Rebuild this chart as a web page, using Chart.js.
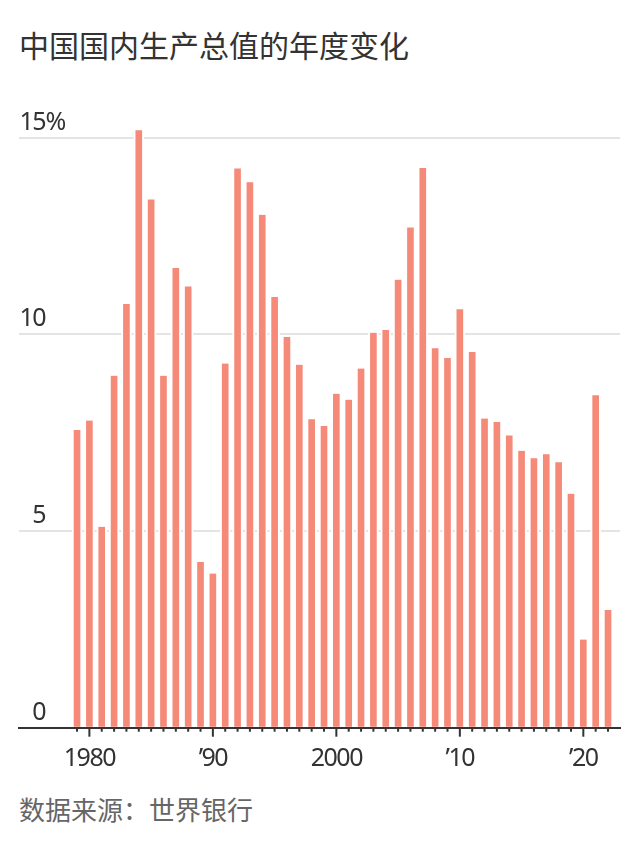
<!DOCTYPE html>
<html lang="zh-CN">
<head>
<meta charset="utf-8">
<script src="https://cdn.jsdelivr.net/npm/chart.js@4.4.1/dist/chart.umd.min.js"></script>
<style>
html, body { margin: 0; padding: 0; background: #fff; }
body { width: 639px; height: 852px; position: relative; overflow: hidden; font-family: "Noto Sans CJK SC", "Noto Sans", sans-serif; }
#title { position: absolute; left: 19px; top: 29px; font-size: 30px; line-height: 1; color: #333; white-space: nowrap; }
#source { position: absolute; left: 19px; top: 796px; font-size: 26px; line-height: 1; color: #666; white-space: nowrap; }
#chart { position: absolute; left: 0; top: 90px; }
</style>
</head>
<body>
<div id="title">中国国内生产总值的年度变化</div>
<canvas id="chart" width="639" height="690" style="width:639px;height:690px"></canvas>
<div id="source">数据来源：世界银行</div>
<script>
// 年份与GDP增长率(%)
const years = [1979, 1980, 1981, 1982, 1983, 1984, 1985, 1986, 1987, 1988,
               1989, 1990, 1991, 1992, 1993, 1994, 1995, 1996, 1997, 1998,
               1999, 2000, 2001, 2002, 2003, 2004, 2005, 2006, 2007, 2008,
               2009, 2010, 2011, 2012, 2013, 2014, 2015, 2016, 2017, 2018,
               2019, 2020, 2021, 2022]
const growth = [7.57, 7.81, 5.11, 8.95, 10.77, 15.19, 13.43, 8.95, 11.69, 11.22,
                4.21, 3.92, 9.26, 14.22, 13.87, 13.04, 10.95, 9.93, 9.23, 7.84,
                7.67, 8.49, 8.34, 9.13, 10.04, 10.11, 11.39, 12.72, 14.23, 9.65,
                9.40, 10.64, 9.55, 7.86, 7.77, 7.43, 7.04, 6.85, 6.95, 6.75,
                5.95, 2.24, 8.45, 2.99]

const xTickYears = [1980, 1990, 2000, 2010, 2020]
const xTickLabels = ['1980', '’90', '2000', '’10', '’20']
const yTicks = [0, 5, 10, 15]
const yUnit = '%'

const numFont = "'Noto Sans', 'Roboto', sans-serif"
const yFont = { family: numFont, size: 25 }
const xFont = { family: numFont, size: 25 }
const yLabelOffset = -15
const yPadding = -2.5

// 原图数字是窄体, 用负字距凑一下
const narrowText = {
    id: 'narrowText',
    beforeDraw(chart){
        chart.ctx.letterSpacing = '-1.5px'
    }
}

// 每年的小刻度, 整十年的刻度长一点
const yearTicks = {
    id: 'yearTicks',
    afterDraw(chart){
        const ctx = chart.ctx
        const x = chart.scales.x
        const y0 = chart.chartArea.bottom
        ctx.save()
        ctx.strokeStyle = '#333'
        ctx.lineWidth = 2
        years.forEach(yr=>{
            const px = x.getPixelForValue(yr)
            const len = yr % 10 === 0 ? 9 : 4
            ctx.beginPath()
            ctx.moveTo(px, y0)
            ctx.lineTo(px, y0 + len)
            ctx.stroke()
        })
        // 最上面的刻度加上 % 号
        const y = chart.scales.y
        ctx.font = yFont.size + 'px ' + yFont.family
        const top = yTicks[yTicks.length - 1]
        const widest = Math.max(...yTicks.map(v=>ctx.measureText(String(v)).width))
        ctx.fillStyle = '#333'
        ctx.textAlign = 'left'
        ctx.textBaseline = 'middle'
        ctx.fillText(yUnit, y.right + yPadding + widest + 3.5, y.getPixelForValue(top) + yLabelOffset)
        ctx.restore()
    }
}

const ctx = document.getElementById('chart')
const myChart = new Chart(ctx, {
    type: 'bar',
    data: {
        datasets: [{
            data: years.map((yr, i)=>({ x: yr, y: growth[i] })),
            backgroundColor: '#f58a78',
            borderColor: '#ffffff',
            borderWidth: { left: 2, right: 2, top: 0, bottom: 0 },
            borderSkipped: 'start',
            barThickness: 10,
            clip: false
        }]
    },
    options: {
        responsive: false,
        animation: false,
        layout: { padding: { left: 19, right: 19, top: 47.7, bottom: 0 } },
        plugins: {
            legend: { display: false },
            tooltip: { enabled: false }
        },
        scales: {
            x: {
                type: 'linear',
                offset: false,
                min: 1974.3,
                max: 2022.97,
                afterBuildTicks: s=>{ s.ticks = xTickYears.map(v=>({ value: v })) },
                afterFit: s=>{ s.height = 52.3 },
                ticks: {
                    callback: v=>xTickLabels[xTickYears.indexOf(v)],
                    font: xFont,
                    color: '#333',
                    padding: 16,
                    maxRotation: 0,
                    autoSkip: false
                },
                grid: { display: false, offset: false, drawTicks: false },
                border: { display: true, color: '#333', width: 2, z: 1 }
            },
            y: {
                min: 0,
                max: 15,
                afterBuildTicks: s=>{ s.ticks = yTicks.map(v=>({ value: v })) },
                afterFit: s=>{ s.width = 0 },
                ticks: {
                    mirror: true,
                    crossAlign: 'far',
                    padding: yPadding,
                    labelOffset: yLabelOffset,
                    callback: v=>String(v),
                    font: yFont,
                    color: '#333'
                },
                grid: { color: '#e4e4e4', lineWidth: 2, drawTicks: false },
                border: { display: false }
            }
        }
    },
    plugins: [narrowText, yearTicks]
})
</script>
</body>
</html>
